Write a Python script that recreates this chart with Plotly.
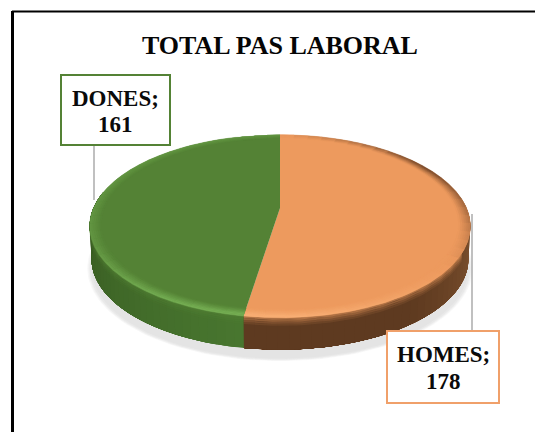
import numpy as np
import plotly.graph_objects as go

# Data
categories = ["HOMES", "DONES"]
values = [178, 161]
title_text = "TOTAL PAS LABORAL"

# Style
face_colors = ["#ED9A5E", "#548235"]
light_colors = ["#F8AE74", "#74AD52"]
dark_colors = ["#6A4024", "#3F6A28"]
side_left = ["#8C5C36", "#48762F"]
side_right = ["#5E3A20", "#35561F"]
border_colors = ["#F0A06A", "#548235"]

CX, CY, RX, RY, K, DEPTH = 280.0, 208.0, 186.5, 87.8, 0.2, 33.0
SERIF = "Liberation Serif"
W, H = 535, 432


def warp(theta, r=1.0, dy=0.0, s=1.0):
    u, v = r * np.sin(theta), r * np.cos(theta)
    w = 1 + K * v
    return CX + s * RX * u / w, CY - s * RY * v / w + dy


def mix(a, b, f):
    f = float(np.clip(f, 0, 1))
    ca = [int(a[i:i + 2], 16) for i in (1, 3, 5)]
    cb = [int(b[i:i + 2], 16) for i in (1, 3, 5)]
    return "#%02x%02x%02x" % tuple(round(x + (y - x) * f) for x, y in zip(ca, cb))


def poly(fig, x, y, color, opacity=1.0, lw=0.7):
    fig.add_trace(go.Scatter(x=np.asarray(x), y=np.asarray(y), mode="lines", fill="toself",
                             fillcolor=color, opacity=opacity,
                             line=dict(color=color, width=lw), hoverinfo="skip", showlegend=False))


fig = go.Figure()
total = sum(values)
edges = np.concatenate([[0], np.cumsum(values)]) / total * 2 * np.pi

# soft shadow under the disc
ring = np.linspace(0, 2 * np.pi, 160)
for grow, op in [(1.012, 0.25), (1.006, 0.35), (1.0, 0.6), (0.99, 1.0)]:
    sx, sy = warp(ring, dy=DEPTH + 9, s=grow)
    poly(fig, sx, sy, "#E4E4E4", opacity=op, lw=0)

# side wall: painted back to front so that no seams show between the steps
for i in range(len(values)):
    a0, a1 = edges[i], edges[i + 1]
    lo, hi = max(a0, np.pi * 0.44), min(a1, np.pi * 1.56)
    if hi <= lo:
        continue
    steps = np.linspace(lo, hi, 40)
    for j in range(len(steps) - 1):
        t = np.linspace(steps[j], hi, 60)
        x1, y1 = warp(t)
        x2, y2 = warp(t[::-1], dy=DEPTH, s=0.99)
        frac = j / (len(steps) - 2)
        frac = frac if i == 1 else min(frac * 1.7, 1)
        poly(fig, np.r_[x1, x2], np.r_[y1, y2], mix(side_left[i], side_right[i], frac), lw=0)
    # bevel running over the top of the wall
    blo = max(lo, np.radians(118))
    t = np.linspace(blo, hi, 60)
    for d0, d1, op in [(0, 2, 0.55), (2, 4, 0.38), (4, 6, 0.22), (6, 8, 0.1)]:
        x1, y1 = warp(t, dy=d0)
        x2, y2 = warp(t[::-1], dy=d1)
        poly(fig, np.r_[x1, x2], np.r_[y1, y2], face_colors[i], opacity=op, lw=0)


# top face
def lighting(t):
    d = np.degrees(t) % 360
    if d < 60:
        return -d / 60
    if d < 190:
        return -1 + 2 * (d - 60) / 130
    return max(0.35, 1 - (d - 190) / 90)


R_IN = 0.94
for i in range(len(values)):
    a0, a1 = edges[i], edges[i + 1]
    t = np.linspace(a0, a1, 120)
    fx, fy = warp(t)
    poly(fig, np.r_[CX, fx], np.r_[CY, fy], face_colors[i], lw=0)

    radii = np.linspace(R_IN, 1.0, 7)
    segs = np.linspace(a0, a1, 37)
    for k in range(len(radii) - 1):
        weight = ((k + 0.5) / (len(radii) - 1)) ** 1.1
        for j in range(len(segs) - 1):
            tt = np.linspace(segs[j], segs[j + 1], 3)
            l = lighting(tt[1])
            col = face_colors[i]
            col = mix(col, light_colors[i], weight * l * 1.4) if l > 0 else mix(col, dark_colors[i], -weight * l)
            x1, y1 = warp(tt, r=radii[k])
            x2, y2 = warp(tt[::-1], r=radii[k + 1])
            poly(fig, np.r_[x1, x2], np.r_[y1, y2], col, lw=0.5)

label_boxes = [dict(x=443, y=367, w=110, h=70, y1=354, y2=381),
               dict(x=115.5, y=110, w=107, h=68, y1=98, y2=124)]
for i, b in enumerate(label_boxes):
    fig.add_annotation(x=b["x"], y=b["y"], xref="x", yref="y", showarrow=False, text=" ",
                       width=b["w"], height=b["h"], bgcolor="white",
                       bordercolor=border_colors[i], borderwidth=2, borderpad=0)
    for txt, yy in ((f"{categories[i]};", b["y1"]), (f"{values[i]}", b["y2"])):
        fig.add_annotation(x=b["x"], y=yy, xref="x", yref="y", showarrow=False, text=f"<b>{txt}</b>",
                           font=dict(family=SERIF, size=23, color="#0A0A0A"))

fig.add_annotation(x=280, y=45, xref="x", yref="y", showarrow=False,
                   text=f"<b>{title_text}</b>", font=dict(family=SERIF, size=26, color="#050505"))

fig.update_layout(
    width=W, height=H, margin=dict(l=0, r=0, t=0, b=0), paper_bgcolor="white", plot_bgcolor="white",
    showlegend=False,
    xaxis=dict(range=[0, W], visible=False, fixedrange=True),
    yaxis=dict(range=[H, 0], visible=False, fixedrange=True),
    shapes=[
        dict(type="line", x0=94, x1=94, y0=145, y1=200, xref="x", yref="y", line=dict(color="#ABABAB", width=1.5)),
        dict(type="line", x0=472, x1=472, y0=214, y1=331, xref="x", yref="y", line=dict(color="#ABABAB", width=1.5)),
        dict(type="line", x0=12.5, x1=12.5, y0=11, y1=H, xref="x", yref="y", line=dict(color="#000000", width=3)),
        dict(type="line", x0=12, x1=W, y0=11.5, y1=11.5, xref="x", yref="y", line=dict(color="#000000", width=2)),
    ],
)
fig.write_html("out.html", post_script="document.body.style.margin='0';",
               config=dict(displayModeBar=False))
